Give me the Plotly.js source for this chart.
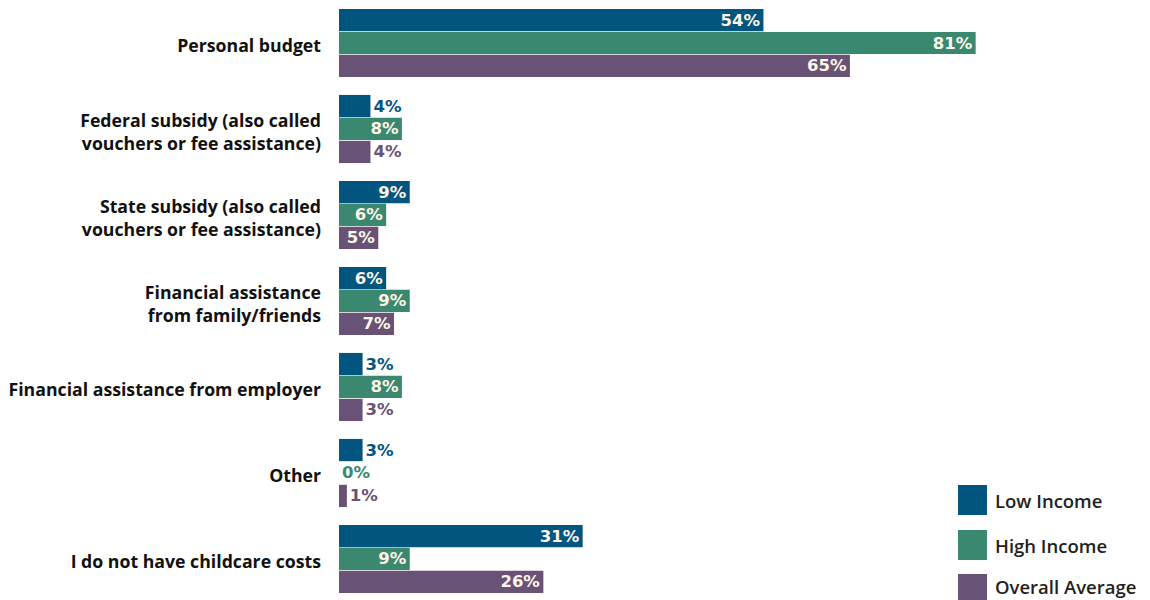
<!DOCTYPE html>
<html><head><meta charset="utf-8">
<script src="https://cdn.plot.ly/plotly-3.0.1.min.js"></script>
<style>html,body{margin:0;padding:0;background:#fff}#chart{width:1150px;height:600px}</style>
</head><body><div id="chart"></div>
<script>
const categories = [
  "Personal budget",
  "Federal subsidy (also called<br>vouchers or fee assistance)",
  "State subsidy (also called<br>vouchers or fee assistance)",
  "Financial assistance<br>from family/friends",
  "Financial assistance from employer",
  "Other",
  "I do not have childcare costs"
];
const seriesNames = ["Low Income", "High Income", "Overall Average"];
const lowIncome = [54, 4, 9, 6, 3, 3, 31];
const highIncome = [81, 8, 6, 9, 8, 0, 9];
const overallAverage = [65, 4, 5, 7, 3, 1, 26];
const colors = ["#02557f", "#3a8870", "#685275"];

const seriesValues = [lowIncome, highIncome, overallAverage];
const font = "'Open Sans', sans-serif";
const valueFont = "'DejaVu Sans', sans-serif";

const traces = seriesValues.map((vals, i) => ({
  type: "bar",
  orientation: "h",
  name: seriesNames[i],
  y: categories,
  x: vals,
  marker: {color: colors[i]},
  text: vals.map(v => v + "%"),
  textposition: vals.map(v => v >= 5 ? "inside" : "outside"),
  insidetextanchor: "end",
  insidetextfont: {color: "#fdf5e6", size: 16.5, family: valueFont, weight: 700},
  outsidetextfont: {color: colors[i], size: 16.5, family: valueFont, weight: 700},
  textangle: 0,
  constraintext: "none",
  cliponaxis: false,
  hoverinfo: "none",
  showlegend: false
}));

const shapes = [], annotations = [];
const legendBoxY = [500, 545, 589];
const legendTextY = [500, 545, 586];
seriesNames.forEach((n, i) => {
  const yc = 1 - legendBoxY[i] / 600;
  shapes.push({type: "rect", xref: "paper", yref: "paper",
    x0: (958 - 339) / 786, x1: (987 - 339) / 786,
    y0: yc - 15 / 600, y1: yc + 15 / 600,
    fillcolor: colors[i], line: {width: 0}});
  annotations.push({xref: "paper", yref: "paper", x: (993 - 339) / 786, y: 1 - legendTextY[i] / 600,
    xanchor: "left", yanchor: "middle", showarrow: false, text: n,
    font: {family: font, size: 18.5, color: "#231f20", weight: 600}});
});

const layout = {
  width: 1150, height: 600,
  margin: {l: 339, r: 25, t: 0, b: 0},
  paper_bgcolor: "#fff", plot_bgcolor: "#fff",
  barmode: "group", bargap: 0.2, bargroupgap: 0.03,
  xaxis: {range: [0, 100], visible: false, fixedrange: true},
  yaxis: {range: [6.477, -0.5], showgrid: false, zeroline: false, showline: false,
    ticks: "", ticklabelstandoff: 17, ticklabelshift: -3,
    tickfont: {family: font, size: 17.7, color: "#111", weight: 700}},
  showlegend: false,
  shapes: shapes,
  annotations: annotations
};
Plotly.newPlot("chart", traces, layout, {displayModeBar: false, staticPlot: true});
</script></body></html>
